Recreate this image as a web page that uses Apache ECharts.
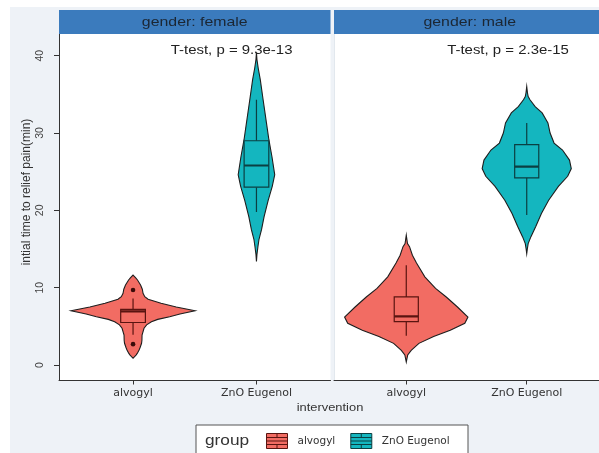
<!DOCTYPE html>
<html>
<head>
<meta charset="utf-8">
<script src="https://cdn.jsdelivr.net/npm/echarts@6/dist/echarts.min.js"></script>
<style>
  html, body { margin: 0; padding: 0; background: #ffffff; }
  #chart { width: 599px; height: 453px; }
</style>
</head>
<body>
<div id="chart"></div>
<script>
// ---------------- data ----------------
const categories = ['alvogyl', 'ZnO Eugenol'];
const genders = ['female', 'male'];
const stripLabels = ['gender: female', 'gender: male'];
const pLabels = ['T-test, p = 9.3e-13', 'T-test, p = 2.3e-15'];
const yTicks = [0, 10, 20, 30, 40];
const legendTitle = 'group';
const xTitle = 'intervention';
const yTitle = 'intial time to relief pain(min)';

// violin outlines: [value, half width in category units], top to bottom
const femaleAlvogylViolin = [
  [11.64, 0], [11.3, 0.02], [11.0, 0.036], [10.35, 0.061], [9.8, 0.075], [9.27, 0.081],
  [8.84, 0.095], [8.5, 0.122], [7.98, 0.227], [7.5, 0.35], [7.02, 0.502], [6.6, 0.38],
  [6.25, 0.297], [5.9, 0.2], [5.6, 0.149], [5.2, 0.11], [4.75, 0.089], [3.88, 0.073],
  [3.2, 0.072], [2.81, 0.069], [2.3, 0.058], [1.94, 0.049], [1.5, 0.034], [1.29, 0.024], [0.87, 0]
];
const femaleZnoViolin = [
  [40.4, 0], [39.5, 0.004], [38.4, 0.014], [36.9, 0.031], [34.3, 0.054], [31.3, 0.081],
  [29.1, 0.101], [26.9, 0.126], [24.6, 0.148], [23.1, 0.128], [21.3, 0.095], [19.2, 0.062],
  [17.5, 0.041], [16.2, 0.02], [15.3, 0.012], [14.3, 0.004], [13.4, 0]
];
const maleAlvogylViolin = [
  [16.8, 0], [15.7, 0.01], [15.3, 0.027], [14.2, 0.051], [13.2, 0.085], [11.4, 0.154],
  [9.9, 0.243], [8.8, 0.332], [7.5, 0.425], [6.2, 0.512], [5.4, 0.486], [4.5, 0.365],
  [3.7, 0.227], [2.8, 0.105], [1.9, 0.041], [1.3, 0.012], [0.4, 0]
];
const maleZnoViolin = [
  [36.0, 0], [35.2, 0.006], [34.7, 0.012], [34.3, 0.027], [33.4, 0.07], [32.6, 0.128],
  [31.3, 0.176], [30.0, 0.194], [28.7, 0.227], [27.8, 0.297], [26.5, 0.355], [25.4, 0.37],
  [24.4, 0.34], [23.1, 0.263], [21.3, 0.182], [19.6, 0.122], [17.9, 0.075], [16.6, 0.035],
  [15.7, 0.012], [15.0, 0.005], [14.4, 0]
];

// boxes: [lower whisker, Q1, median, Q3, upper whisker]
const femaleAlvogylBox = [3.9, 5.5, 6.95, 7.2, 8.6];
const femaleZnoBox = [19.8, 23.0, 25.8, 29.0, 34.3];
const maleAlvogylBox = [3.8, 5.6, 6.3, 8.8, 12.9];
const maleZnoBox = [19.4, 24.2, 25.65, 28.5, 31.3];

const femaleAlvogylOutliers = [9.7, 2.7];
const femaleZnoOutliers = [];
const maleAlvogylOutliers = [];
const maleZnoOutliers = [];

// ---------------- styles ----------------
const fillColors = ['#f26c63', '#14b6bf'];
const boxLineColors = ['#5a1410', '#0b3f42'];

const groups = [
  { panel: 0, cat: 0, violin: femaleAlvogylViolin, box: femaleAlvogylBox, out: femaleAlvogylOutliers },
  { panel: 0, cat: 1, violin: femaleZnoViolin, box: femaleZnoBox, out: femaleZnoOutliers },
  { panel: 1, cat: 0, violin: maleAlvogylViolin, box: maleAlvogylBox, out: maleAlvogylOutliers },
  { panel: 1, cat: 1, violin: maleZnoViolin, box: maleZnoBox, out: maleZnoOutliers }
];

const BOX_HW = 0.1;

function makeRender(g) {
  return function (params, api) {
    const c = api.value(0);
    const pts = [];
    g.violin.forEach(function (p) { pts.push(api.coord([c + p[1], p[0]])); });
    for (let i = g.violin.length - 1; i >= 0; i--) {
      const p = g.violin[i];
      pts.push(api.coord([c - p[1], p[0]]));
    }
    const b = g.box;
    const lc = boxLineColors[g.cat];
    const tl = api.coord([c - BOX_HW, b[3]]);
    const br = api.coord([c + BOX_HW, b[1]]);
    const top = api.coord([c, b[4]]);
    const q3 = api.coord([c, b[3]]);
    const q1 = api.coord([c, b[1]]);
    const bot = api.coord([c, b[0]]);
    const mL = api.coord([c - BOX_HW, b[2]]);
    const mR = api.coord([c + BOX_HW, b[2]]);
    const children = [
      { type: 'polygon', shape: { points: pts },
        style: { fill: fillColors[g.cat], stroke: '#1e1e1e', lineWidth: 1.1 } },
      { type: 'line', shape: { x1: top[0], y1: top[1], x2: q3[0], y2: q3[1] },
        style: { stroke: lc, lineWidth: 1.2 } },
      { type: 'line', shape: { x1: q1[0], y1: q1[1], x2: bot[0], y2: bot[1] },
        style: { stroke: lc, lineWidth: 1.2 } },
      { type: 'rect', shape: { x: tl[0], y: tl[1], width: br[0] - tl[0], height: br[1] - tl[1] },
        style: { fill: fillColors[g.cat], stroke: lc, lineWidth: 1.2 } },
      { type: 'line', shape: { x1: mL[0], y1: mL[1], x2: mR[0], y2: mR[1] },
        style: { stroke: lc, lineWidth: 2.2 } }
    ];
    g.out.forEach(function (v) {
      const p = api.coord([c, v]);
      children.push({ type: 'circle', shape: { cx: p[0], cy: p[1], r: 2.3 },
        style: { fill: '#3a0b09' } });
    });
    return { type: 'group', children: children };
  };
}

const series = groups.map(function (g) {
  return {
    type: 'custom',
    name: categories[g.cat],
    xAxisIndex: g.panel,
    yAxisIndex: g.panel,
    coordinateSystem: 'cartesian2d',
    itemStyle: { color: fillColors[g.cat] },
    renderItem: makeRender(g),
    encode: { x: 0, y: 1 },
    data: [[g.cat, g.box[2]]],
    clip: true,
    z: 3
  };
});

const panelLeft = [59, 334];
const panelW = 271.5;
const panelTop = 34;
const panelH = 346.5;

const xAxisCommon = function (i) {
  return {
    type: 'value', gridIndex: i, min: -0.6, max: 1.6,
    splitLine: { show: false },
    axisLine: { show: true, onZero: false, lineStyle: { color: '#333', width: 1 } },
    axisTick: { show: true, length: 4, customValues: [0, 1], lineStyle: { color: '#333' } },
    axisLabel: {
      show: true, customValues: [0, 1], margin: 7,
      formatter: function (v) { return categories[Math.round(v)]; },
      fontFamily: 'DejaVu Sans', fontSize: 11, color: '#333'
    }
  };
};

const option = {
  backgroundColor: '#ffffff',
  animation: false,
  grid: panelLeft.map(function (l) {
    return { left: l, top: panelTop, width: panelW, height: panelH, show: true,
             backgroundColor: '#ffffff', borderWidth: 0, containLabel: false };
  }),
  xAxis: [xAxisCommon(0), xAxisCommon(1)],
  yAxis: [
    {
      type: 'value', gridIndex: 0, min: -2.0, max: 42.8,
      splitLine: { show: false },
      axisLine: { show: true, onZero: false, lineStyle: { color: '#333', width: 1 } },
      axisTick: { show: true, length: 5, customValues: yTicks, lineStyle: { color: '#333' } },
      axisLabel: { show: true, customValues: yTicks, rotate: 90, margin: 13,
                   fontFamily: 'Liberation Sans', fontSize: 10.5, color: '#444' }
    },
    { type: 'value', gridIndex: 1, min: -2.0, max: 42.8, show: false,
      axisLine: { onZero: false } }
  ],
  legend: {
    data: categories.map(function (n, i) {
      return { name: n, itemStyle: { color: fillColors[i], borderColor: boxLineColors[i], borderWidth: 1 } };
    }),
    left: 266, top: 433, orient: 'horizontal', padding: 0,
    itemWidth: 21, itemHeight: 15, itemGap: 15,
    icon: 'path://M0,0H21V15H0ZM0,4H21M0,7.5H21M0,11H21M10.5,0V4M10.5,11V15',
    formatter: function (n) { return '{g|}' + n; },
    textStyle: { fontFamily: 'DejaVu Sans', fontSize: 10.5, color: '#333',
                 rich: { g: { width: 5 } } },
    selectedMode: false,
    z: 10
  },
  graphic: [
    { type: 'rect', z: -10, shape: { x: 10, y: 7, width: 600, height: 460 },
      style: { fill: '#eef2f7' } },
    { type: 'line', z: 1, shape: { x1: 334.5, y1: 34, x2: 334.5, y2: 380 },
      style: { stroke: '#e2e8ee', lineWidth: 1 } },
    // strips
    { type: 'rect', z: 5, shape: { x: panelLeft[0], y: 10, width: panelW, height: 24 },
      style: { fill: '#3b7bbd' } },
    { type: 'rect', z: 5, shape: { x: panelLeft[1], y: 10, width: panelW, height: 24 },
      style: { fill: '#3b7bbd' } },
    { type: 'text', z: 6, x: panelLeft[0] + panelW / 2, y: 22, scaleX: 1.22,
      style: { text: stripLabels[0], fontFamily: 'Liberation Sans', fontSize: 13,
               fill: '#1b2633', align: 'center', verticalAlign: 'middle' } },
    { type: 'text', z: 6, x: panelLeft[1] + panelW / 2, y: 22, scaleX: 1.22,
      style: { text: stripLabels[1], fontFamily: 'Liberation Sans', fontSize: 13,
               fill: '#1b2633', align: 'center', verticalAlign: 'middle' } },
    // p-value labels
    { type: 'text', z: 6, x: 231.6, y: 50, scaleX: 1.15,
      style: { text: pLabels[0], fontFamily: 'Liberation Sans', fontSize: 13,
               fill: '#222', align: 'center', verticalAlign: 'middle' } },
    { type: 'text', z: 6, x: 508, y: 50, scaleX: 1.15,
      style: { text: pLabels[1], fontFamily: 'Liberation Sans', fontSize: 13,
               fill: '#222', align: 'center', verticalAlign: 'middle' } },
    // axis titles
    { type: 'text', z: 6, x: 330, y: 408, scaleX: 1.12,
      style: { text: xTitle, fontFamily: 'Liberation Sans', fontSize: 11.5,
               fill: '#333', align: 'center', verticalAlign: 'middle' } },
    { type: 'text', z: 6, x: 27, y: 192, rotation: Math.PI / 2,
      style: { text: yTitle, fontFamily: 'Liberation Sans', fontSize: 12,
               fill: '#333', align: 'center', verticalAlign: 'middle' } },
    // legend frame and title
    { type: 'rect', z: 2, shape: { x: 196, y: 425, width: 272, height: 40 },
      style: { fill: '#ffffff', stroke: '#555', lineWidth: 1 } },
    { type: 'text', z: 6, x: 205, y: 441, scaleX: 1.15,
      style: { text: legendTitle, fontFamily: 'Liberation Sans', fontSize: 15,
               fill: '#333', align: 'left', verticalAlign: 'middle' } }
  ],
  series: series
};

const chart = echarts.init(document.getElementById('chart'), null, { renderer: 'canvas' });
chart.setOption(option);
</script>
</body>
</html>
